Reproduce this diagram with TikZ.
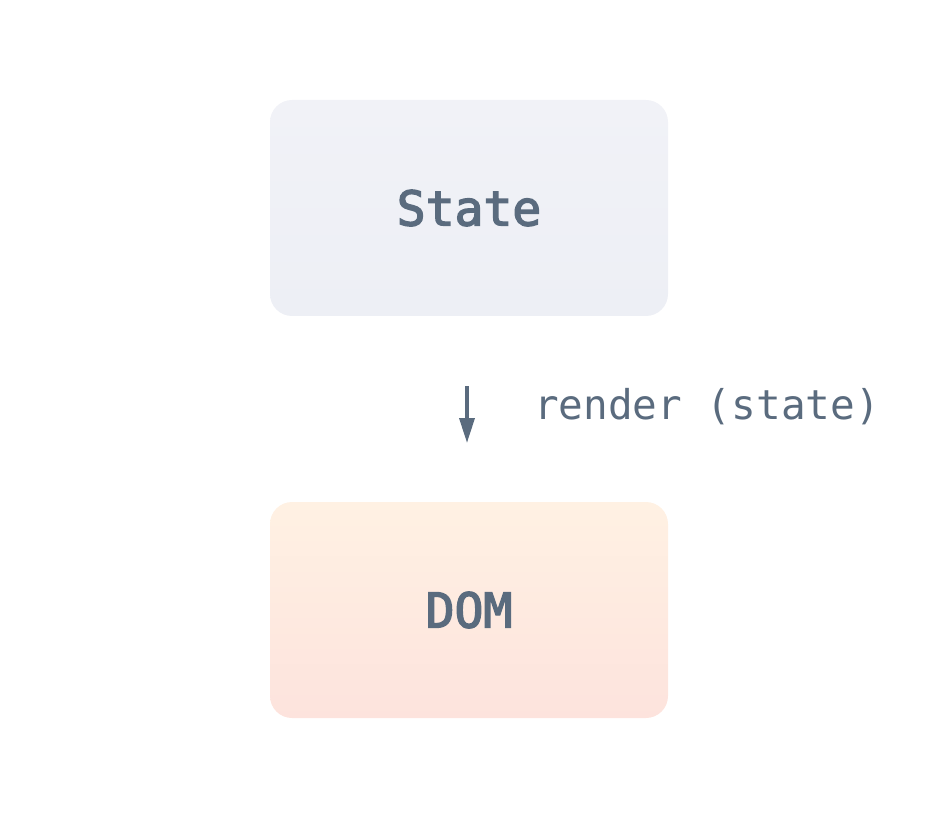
\documentclass[tikz,border=0pt]{standalone}
\usepackage{fontspec}
\newfontfamily\monofont{DejaVu Sans Mono}
\newfontfamily\monomed{DejaVu Sans Mono}[FakeBold=3]
\usetikzlibrary{arrows.meta}
\definecolor{ink}{HTML}{5A6B7E}
\definecolor{stateTop}{HTML}{F1F2F7}
\definecolor{stateBot}{HTML}{EDEFF5}
\definecolor{domTop}{HTML}{FFF1E3}
\definecolor{domBot}{HTML}{FDE3DD}
\tikzset{
  x=1pt, y=1pt,
  box/.style={minimum width=398pt, minimum height=216pt, rounded corners=22pt,
    inner sep=0pt, text=ink, font=\monomed\fontsize{48}{56}\selectfont},
  flow/.style={draw=ink, line width=3.5pt, -{Triangle[length=25pt,width=15pt]}},
  lbl/.style={anchor=west, inner sep=0pt, text=ink, font=\monofont\fontsize{41}{48}\selectfont}
}
\begin{document}
\begin{tikzpicture}
\useasboundingbox (0,0) rectangle (940,-818);
\node[box, top color=stateTop, bottom color=stateBot] (state) at (469,-208) {State};
\node[box, top color=domTop, bottom color=domBot] (dom) at (469,-610) {DOM};
\coordinate (a1) at (467,-386);
\coordinate (a2) at (467,-443);
\draw[flow] (a1) -- (a2);
\node[lbl] (render) at (534,-407) {render (state)};
\end{tikzpicture}
\end{document}
